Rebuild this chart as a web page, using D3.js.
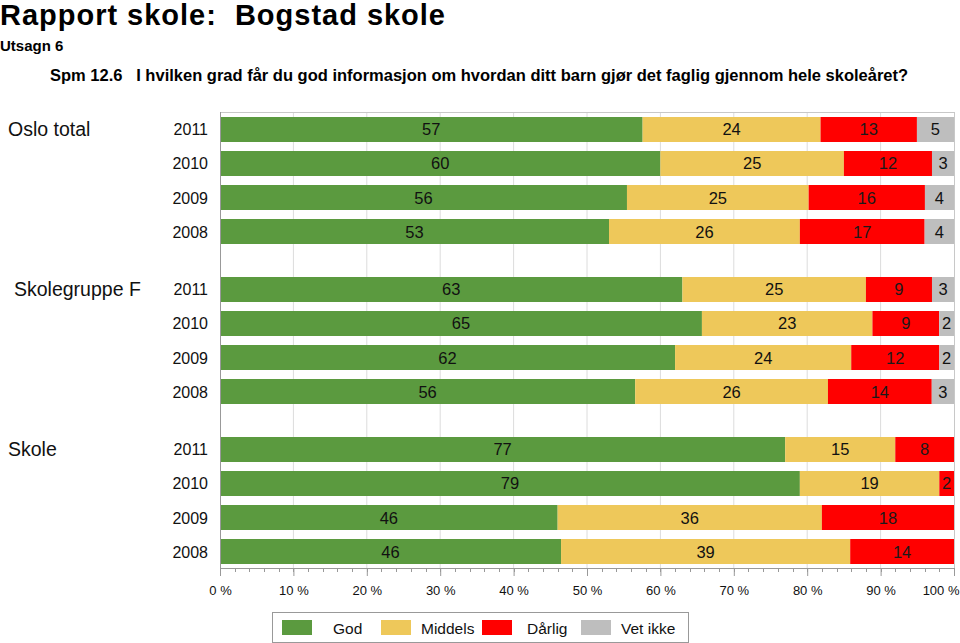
<!DOCTYPE html>
<html><head><meta charset="utf-8">
<script src="https://cdn.jsdelivr.net/npm/d3@7"></script>
<style>body{margin:0;background:#fff}svg{display:block;font-family:"Liberation Sans",Arial,Helvetica,sans-serif}</style>
</head><body>
<script>
// ---- data ----
const groups = ["Oslo total", "Skolegruppe F", "Skole"];
const years = ["2011", "2010", "2009", "2008"];
const categories = ["God", "Middels", "Dårlig", "Vet ikke"];
const osloTotal    = [[57,24,13,5],[60,25,12,3],[56,25,16,4],[53,26,17,4]];
const skolegruppeF = [[63,25,9,3],[65,23,9,2],[62,24,12,2],[56,26,14,3]];
const skole        = [[77,15,8,0],[79,19,2,0],[46,36,18,0],[46,39,14,0]];
const tickLabels = ["0 %","10 %","20 %","30 %","40 %","50 %","60 %","70 %","80 %","90 %","100 %"];
const title = "Rapport skole:  Bogstad skole";
const subtitle = "Utsagn 6";
const question = "Spm 12.6   I hvilken grad får du god informasjon om hvordan ditt barn gjør det faglig gjennom hele skoleåret?";

// ---- layout ----
const W = 960, H = 643;
const colors = ["#5b9a3f", "#eec85a", "#ff0000", "#bebebe"];
const groupLabelX = [8, 14, 8];
const X0 = 220, X1 = 954, YT = 112, YB = 568;

const svg = d3.select("body").append("svg").attr("width", W).attr("height", H);

svg.append("text").attr("x", 0).attr("y", 25).attr("font-size", 29).attr("font-weight", "bold")
  .attr("textLength", 445).attr("lengthAdjust", "spacing")
  .style("white-space", "pre").text(title);
svg.append("text").attr("x", 0).attr("y", 51).attr("font-size", 15).attr("font-weight", "bold").text(subtitle);
svg.append("text").attr("x", 50).attr("y", 81).attr("font-size", 16.5).attr("font-weight", "bold")
  .style("white-space", "pre").text(question);

const x = d3.scaleLinear().domain([0, 1]).range([X0, X1]);
const yGroup = d3.scaleBand().domain(groups).range([117, 564]).paddingInner(0.20625).paddingOuter(0);
const yYear = d3.scaleBand().domain(years).range([0, yGroup.bandwidth()]).paddingInner(0.265).paddingOuter(0);

// grid
const gridVals = d3.range(0, 1.0001, 0.1);
svg.append("g").selectAll("line").data(gridVals.slice(1, -1)).join("line")
  .attr("x1", d => x(d)).attr("x2", d => x(d)).attr("y1", YT).attr("y2", YB)
  .attr("stroke", "#dcdcdc").attr("stroke-width", 1);
// frame
svg.append("line").attr("x1", X0).attr("x2", X1).attr("y1", YT + 0.5).attr("y2", YT + 0.5).attr("stroke", "#c8c8c8");
svg.append("line").attr("x1", X1 + 0.5).attr("x2", X1 + 0.5).attr("y1", YT).attr("y2", YB).attr("stroke", "#c8c8c8");

const allData = [osloTotal, skolegruppeF, skole];
const stack = d3.stack().keys(d3.range(categories.length)).offset(d3.stackOffsetExpand);

groups.forEach((g, gi) => {
  const rows = allData[gi].map((vals, yi) => {
    const o = { year: years[yi] };
    vals.forEach((v, ci) => o[ci] = v);
    return o;
  });
  const series = stack(rows);
  const gg = svg.append("g").attr("transform", `translate(0,${yGroup(g)})`);
  series.forEach((s, ci) => {
    s.forEach((seg, yi) => {
      const v = allData[gi][yi][ci];
      if (v <= 0) return;
      const y0 = yYear(years[yi]);
      gg.append("rect").attr("x", x(seg[0])).attr("width", x(seg[1]) - x(seg[0]))
        .attr("y", y0).attr("height", yYear.bandwidth()).attr("fill", colors[ci]);
      gg.append("text").attr("x", (x(seg[0]) + x(seg[1])) / 2).attr("y", y0 + yYear.bandwidth() / 2 + 6)
        .attr("text-anchor", "middle").attr("font-size", 16.5).attr("fill", ci === 2 ? "#1a1a1a" : "#111")
        .text(v);
    });
  });
  years.forEach(yr => {
    gg.append("text").attr("x", 208).attr("y", yYear(yr) + yYear.bandwidth() / 2 + 6)
      .attr("text-anchor", "end").attr("font-size", 16).attr("fill", "#111").text(yr);
  });
  gg.append("text").attr("x", groupLabelX[gi]).attr("y", yYear(years[0]) + yYear.bandwidth() / 2 + 7)
    .attr("font-size", 19.5).attr("fill", "#111").text(g);
});

// left axis line
svg.append("line").attr("x1", X0 + 0.5).attr("x2", X0 + 0.5).attr("y1", YT).attr("y2", YB).attr("stroke", "#999");

// bottom axis
const axisG = svg.append("g").attr("transform", `translate(0,${YB})`);
axisG.append("line").attr("x1", X0).attr("x2", X1).attr("y1", 0.5).attr("y2", 0.5).attr("stroke", "#999");
axisG.selectAll("line.minor").data(d3.range(0, 1.0001, 0.02)).join("line").attr("class", "minor")
  .attr("x1", d => Math.round(x(d)) + 0.5).attr("x2", d => Math.round(x(d)) + 0.5).attr("y1", 0).attr("y2", 4)
  .attr("stroke", "#999");
const axis = d3.axisBottom(x).tickValues(gridVals).tickFormat((d, i) => tickLabels[i]).tickSize(8).tickPadding(10);
axisG.call(axis);
axisG.attr("font-size", null).attr("font-family", null);
axisG.select(".domain").remove();
axisG.selectAll(".tick line").attr("stroke", "#999");
axisG.selectAll(".tick text").style("font-size", "13px").attr("fill", "#111")
  .style("font-family", '"Liberation Sans",Arial,sans-serif');
axisG.selectAll(".tick:last-of-type text").attr("text-anchor", "end").attr("x", 5);

// legend
const lg = svg.append("g");
lg.append("rect").attr("x", 272.5).attr("y", 612.5).attr("width", 416).attr("height", 30)
  .attr("fill", "#fff").attr("stroke", "#999");
const swX = [282, 381, 482, 581];
const txX = [333, 421, 527, 621];
categories.forEach((c, i) => {
  lg.append("rect").attr("x", swX[i]).attr("y", 620).attr("width", 30).attr("height", 15).attr("fill", colors[i]);
  lg.append("text").attr("x", txX[i]).attr("y", 634).attr("font-size", 15.5).attr("fill", "#111").text(c);
});
</script>
</body></html>
